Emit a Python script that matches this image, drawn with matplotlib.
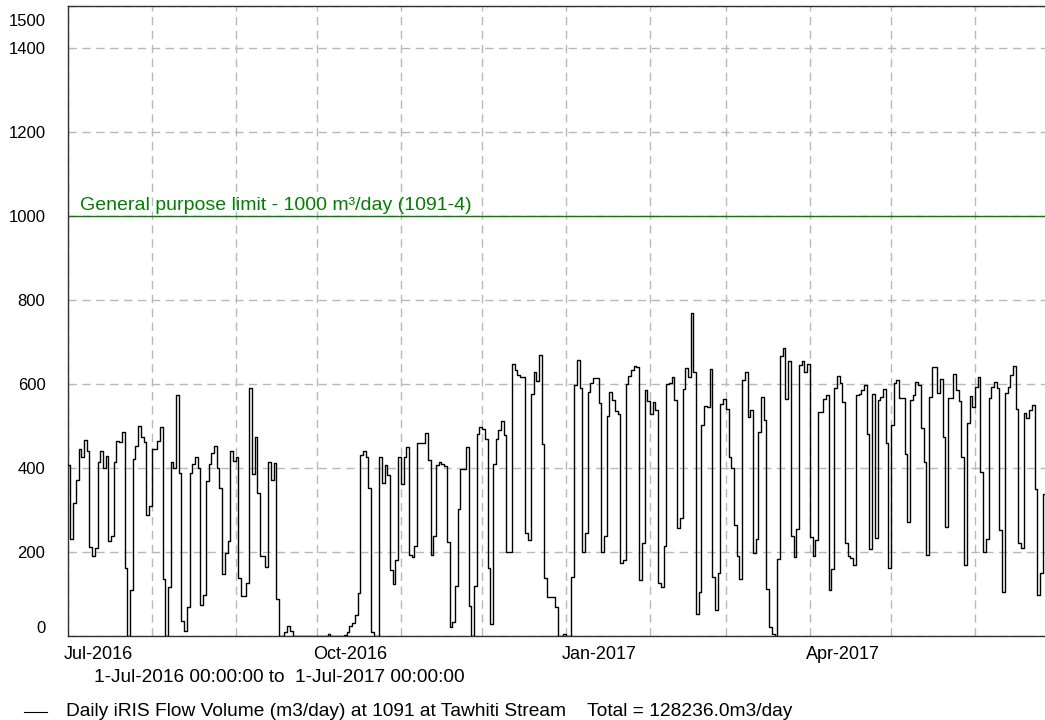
import numpy as np
import pandas as pd
import matplotlib
matplotlib.use('Agg')
import matplotlib.pyplot as plt
import matplotlib.dates as mdates
import matplotlib.transforms as mtransforms

plt.rcParams['font.family'] = ['Liberation Sans', 'DejaVu Sans']

# daily flow volume (m3/day), one value per day from 1-Jul-2016
start_date = '2016-07-01'
flow = [
    # Jul-Jul 31
    408, 233, 318, 373, 445, 426, 468, 440, 213, 192, 210, 414, 441, 400, 429, 226,
    240, 416, 466, 462, 486, 162, 0, 110, 422, 453, 500, 474, 462, 290, 310,
    # Aug
    446, 446, 466, 498, 136, 0, 118, 416, 400, 574, 388, 37, 12, 69, 389, 410,
    428, 400, 74, 98, 369, 410, 436, 454, 401, 354, 148, 198, 226, 441, 418, 428,
    # Sep
    138, 96, 96, 126, 592, 386, 474, 342, 192, 192, 166, 414, 373, 412, 88, 0,
    0, 10, 25, 12, 2, 0, 0, 0, 0, 0, 0, 0, 0, 0,
    # Oct
    0, 0, 0, 6, 0, 0, 0, 0, 0, 3, 10, 24, 32, 50, 104, 432, 442, 428, 354, 10,
    0, 0, 428, 366, 409, 385, 158, 125, 182, 426, 362, 426, 450,
    # Nov
    194, 190, 216, 460, 460, 460, 485, 420, 194, 238, 408, 416, 410, 406, 224, 22,
    34, 120, 302, 398, 398, 450, 72, 0, 120, 482, 498, 494, 470, 162, 30, 410,
    470, 490, 512, 478, 200, 200,
    # Dec
    648, 634, 622, 618, 618, 246, 229, 576, 630, 608, 670, 458, 138, 94, 94, 94,
    70, 2, 0, 5, 0, 0, 142, 598, 658, 590, 202, 245, 582, 604, 614, 614, 556,
    # Jan
    202, 240, 524, 582, 562, 536, 528, 174, 182, 600, 620, 634, 644, 642, 134, 222,
    586, 560, 530, 558, 538, 128, 118, 214, 600, 602, 616, 562, 258,
    # Feb
    282, 588, 638, 616, 770, 630, 54, 106, 502, 549, 546, 637, 142, 62, 150, 552,
    564, 542, 426, 400, 266, 192, 136, 610, 630, 522, 538, 199, 232, 486, 570, 516,
    114, 22, 6, 0, 184,
    # Mar / Apr
    666, 685, 565, 654, 240, 189, 256, 646, 654, 630, 648, 237, 192, 229, 534, 534,
    564, 574, 110, 160, 590, 620, 602, 558, 222, 192, 186, 170, 574, 576, 586, 598,
    482, 208,
    # Apr / May
    576, 234, 562, 570, 589, 460, 162, 502, 604, 610, 568, 568, 434, 272, 562, 574,
    606, 598, 496, 416, 194, 570, 640, 640, 578, 612, 474, 261, 566, 566, 624, 586,
    # May / Jun
    560, 426, 170, 508, 572, 546, 594, 618, 390, 200, 232, 567, 594, 606, 590, 254,
    106, 578, 593, 622, 644, 542, 222, 210, 531, 520, 538, 550, 350, 98, 152, 340, 340,
]

limit_value = 1000
limit_label = 'General purpose limit - 1000 m\u00b3/day (1091-4)'
y_ticks = [0, 200, 400, 600, 800, 1000, 1200, 1400, 1500]
x_label_dates = ['2016-07-01', '2016-10-01', '2017-01-01', '2017-04-01']
x_label_text = ['Jul-2016', 'Oct-2016', 'Jan-2017', 'Apr-2017']
period_text = '1-Jul-2016 00:00:00 to  1-Jul-2017 00:00:00'
legend_text = 'Daily iRIS Flow Volume (m3/day) at 1091 at Tawhiti Stream    Total = 128236.0m3/day'

dates = pd.date_range(start_date, periods=len(flow), freq='D')

fig = plt.figure(figsize=(10.45, 7.2), dpi=100)
# axes runs a little past the right edge of the picture, like the original
ax = fig.add_axes([0.0648, 0.116, 0.946, 0.876])

ax.plot(dates, flow, drawstyle='steps-post', color='black', lw=1, zorder=3)
ax.axhline(limit_value, color='#008000', lw=1, zorder=2)
ax.annotate(limit_label, xy=(0.012, limit_value), xycoords=('axes fraction', 'data'),
            xytext=(0, 1.5), textcoords='offset points', va='bottom', ha='left',
            color='#008000', fontsize=14)

ax.set_xlim(pd.Timestamp('2016-07-01'), pd.Timestamp('2017-07-01'))
ax.set_ylim(0, 1500)

# y axis
ax.set_yticks(y_ticks)
ax.set_yticklabels([str(v) for v in y_ticks], fontsize=12)
ax.tick_params(axis='y', length=0, pad=16)
ylabels = ax.get_yticklabels()
ylabels[0].set_verticalalignment('bottom')
ylabels[-1].set_verticalalignment('top')
ylabels[-1].set_transform(ylabels[-1].get_transform() +
                          mtransforms.ScaledTranslation(0, -6 / 72, fig.dpi_scale_trans))

# x axis: month grid, quarterly labels
ax.xaxis.set_minor_locator(mdates.MonthLocator())
ax.set_xticks([pd.Timestamp(d) for d in x_label_dates])
ax.set_xticklabels(x_label_text, fontsize=13, ha='left')
ax.tick_params(axis='x', which='both', length=0, pad=7)
shift = mtransforms.ScaledTranslation(-4 / 100, 0, fig.dpi_scale_trans)
for lbl in ax.get_xticklabels():
    lbl.set_transform(lbl.get_transform() + shift)

grid_kw = dict(color='#b8b8b8', linestyle=(0, (6, 4)), lw=1)
ax.grid(True, axis='x', which='both', **grid_kw)
ax.grid(True, axis='y', which='major', **grid_kw)
ax.set_axisbelow(True)

for side in ['left', 'top', 'bottom']:
    ax.spines[side].set_color('#303030')
    ax.spines[side].set_linewidth(1)
ax.spines['right'].set_visible(False)

fig.text(94 / 1045, 1 - 678 / 720, period_text, fontsize=13.7, va='center', ha='left')
fig.lines.append(plt.Line2D([24 / 1045, 47 / 1045], [1 - 712 / 720, 1 - 712 / 720],
                            transform=fig.transFigure, color='black', lw=0.8))
fig.text(66 / 1045, 1 - 712 / 720, legend_text, fontsize=13.8, va='center', ha='left')

fig.savefig('out.png', dpi=100)
